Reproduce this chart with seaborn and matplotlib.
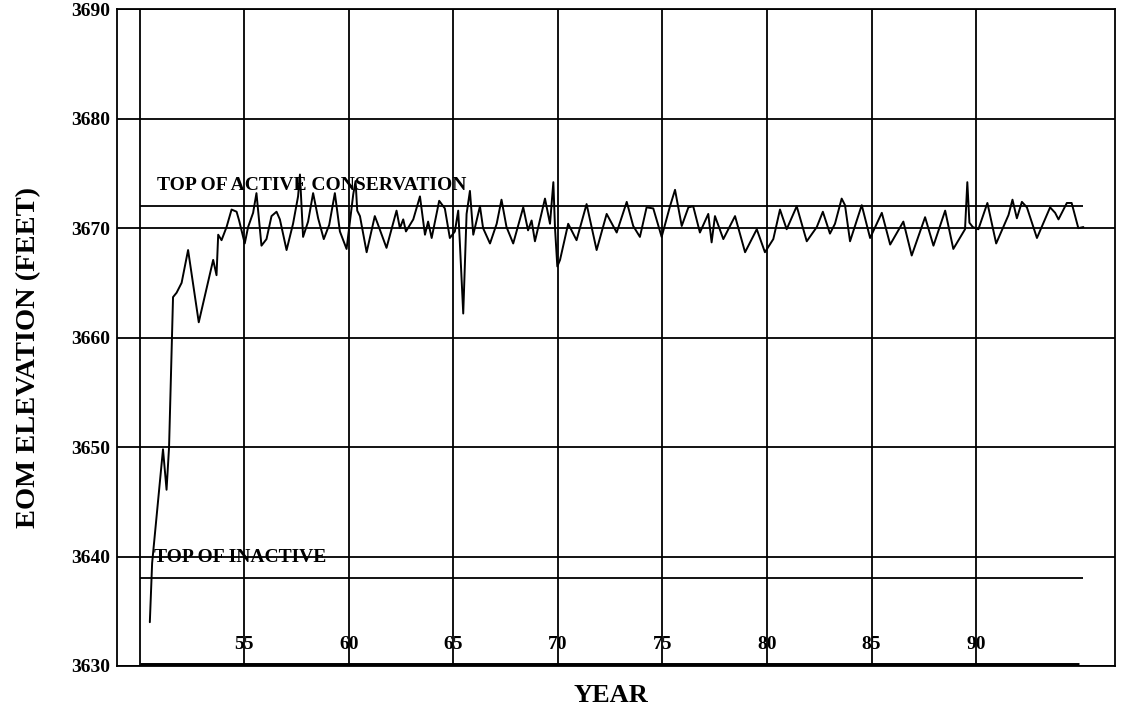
import pandas as pd
import seaborn as sns
import matplotlib.pyplot as plt

# end-of-month elevation trace
years = [50.48, 50.59, 51.11, 51.28, 51.40, 51.59, 51.76, 52.00, 52.31, 52.82,
         53.51, 53.67, 53.75, 53.91, 54.15, 54.39, 54.63, 54.75, 55.02, 55.18,
         55.42, 55.58, 55.82, 56.06, 56.30, 56.54, 56.70, 57.02, 57.33, 57.57,
         57.66, 57.81, 58.05, 58.29, 58.53, 58.80, 59.06, 59.33, 59.57, 59.89,
         60.21, 60.32, 60.40, 60.53, 60.85, 61.24, 61.36, 61.80, 62.28, 62.44,
         62.60, 62.73, 63.08, 63.40, 63.64, 63.79, 63.96, 64.32, 64.59, 64.83,
         65.07, 65.23, 65.31, 65.47, 65.63, 65.79, 65.95, 66.27, 66.42, 66.75,
         67.07, 67.30, 67.54, 67.86, 68.34, 68.57, 68.74, 68.90, 69.38, 69.62,
         69.78, 69.86, 69.97, 70.10, 70.49, 70.89, 71.37, 71.85, 72.33, 72.81,
         73.29, 73.60, 73.92, 74.24, 74.56, 74.96, 75.36, 75.60, 75.92, 76.24,
         76.47, 76.79, 77.19, 77.35, 77.51, 77.91, 78.47, 78.95, 79.51, 79.90,
         80.30, 80.62, 80.94, 81.42, 81.90, 82.38, 82.67, 83.01, 83.25, 83.57,
         83.73, 83.97, 84.53, 84.93, 85.49, 85.89, 86.52, 86.92, 87.56, 87.96,
         88.52, 88.91, 89.47, 89.58, 89.68, 89.84, 90.11, 90.54, 90.96, 91.55,
         91.74, 91.95, 92.19, 92.43, 92.91, 93.54, 93.78, 93.94, 94.34, 94.57,
         94.89, 95.13]
elevation = [3634.0, 3639.4, 3649.8, 3646.1, 3650.0, 3663.7, 3664.1, 3665.0, 3668.0, 3661.4,
             3667.1, 3665.7, 3669.4, 3668.9, 3670.1, 3671.7, 3671.5, 3670.7, 3668.6, 3670.1,
             3671.4, 3673.2, 3668.4, 3669.0, 3671.1, 3671.5, 3670.8, 3668.0, 3670.4, 3672.9,
             3674.9, 3669.2, 3670.6, 3673.2, 3670.9, 3669.0, 3670.3, 3673.2, 3669.7, 3668.1,
             3673.1, 3674.3, 3671.6, 3671.1, 3667.8, 3671.1, 3670.5, 3668.2, 3671.6, 3670.0,
             3670.8, 3669.7, 3670.8, 3672.9, 3669.4, 3670.6, 3669.1, 3672.5, 3671.8, 3669.1,
             3669.7, 3671.6, 3668.6, 3662.2, 3671.3, 3673.4, 3669.4, 3672.0, 3670.0, 3668.6,
             3670.4, 3672.6, 3670.1, 3668.6, 3671.9, 3669.8, 3670.7, 3668.8, 3672.7, 3670.4,
             3674.2, 3670.0, 3666.5, 3667.1, 3670.4, 3668.9, 3672.2, 3668.0, 3671.3, 3669.6,
             3672.4, 3670.2, 3669.2, 3671.9, 3671.8, 3669.2, 3672.0, 3673.5, 3670.2, 3671.9,
             3672.0, 3669.6, 3671.3, 3668.7, 3671.1, 3669.0, 3671.1, 3667.8, 3669.9, 3667.8,
             3669.0, 3671.7, 3669.9, 3672.0, 3668.8, 3670.1, 3671.5, 3669.5, 3670.4, 3672.7,
             3672.1, 3668.8, 3672.1, 3669.1, 3671.4, 3668.5, 3670.6, 3667.5, 3671.0, 3668.4,
             3671.6, 3668.1, 3669.9, 3674.2, 3670.5, 3670.1, 3669.9, 3672.3, 3668.6, 3671.2,
             3672.6, 3670.9, 3672.4, 3671.9, 3669.1, 3671.9, 3671.4, 3670.8, 3672.3, 3672.3,
             3670.0, 3670.1]

# reference levels
active_top = 3672
inactive_top = 3638
level_start, level_end = 50, 95.1

year_ticks = [55, 60, 65, 70, 75, 80, 85, 90]
year_grid = [50, 55, 60, 65, 70, 75, 80, 85, 90]
elev_ticks = [3630, 3640, 3650, 3660, 3670, 3680, 3690]

df = pd.DataFrame({'year': years, 'elev': elevation})

sns.set_style('white')
plt.rcParams['font.family'] = ['Liberation Serif', 'DejaVu Serif']
plt.rcParams['text.color'] = 'black'
plt.rcParams['ytick.color'] = 'black'

fig = plt.figure(figsize=(11.23, 7.10), dpi=100)
ax = fig.add_axes([0.104, 0.062, 0.889, 0.925])

# grid
for v in elev_ticks:
    ax.axhline(v, color='black', lw=1.3, zorder=1)
for yr in year_grid:
    ax.axvline(yr, color='black', lw=1.3, zorder=1)

# level lines
ax.hlines([active_top, inactive_top], level_start, level_end, color='black', lw=1.3, zorder=1)
ax.hlines(3630, level_start, level_end - 0.2, color='black', lw=5, zorder=3)

sns.lineplot(data=df, x='year', y='elev', color='black', lw=1.4, ax=ax, zorder=2)

ax.text(50.8, active_top + 1.1, 'TOP OF ACTIVE CONSERVATION', fontsize=14,
        fontweight='bold', va='bottom', ha='left')
ax.text(50.7, inactive_top + 1.1, 'TOP OF INACTIVE', fontsize=14,
        fontweight='bold', va='bottom', ha='left')

for yr in year_ticks:
    ax.text(yr, 3632.0, str(yr), fontsize=14, fontweight='bold',
            ha='center', va='center')

ax.set_xlim(48.9, 96.65)
ax.set_ylim(3630, 3690)
ax.set_xticks([])
ax.set_yticks(elev_ticks)
ax.set_yticklabels([str(v) for v in elev_ticks], fontsize=14, fontweight='bold')
ax.tick_params(axis='y', length=0, pad=5)
ax.set_xlabel('')
ax.set_ylabel('')
for s in ax.spines.values():
    s.set_color('black')
    s.set_linewidth(1.3)

fig.text(611 / 1123, 1 - 696 / 710, 'YEAR', fontsize=19, fontweight='bold',
         ha='center', va='center')
fig.text(29 / 1123, 1 - 358 / 710, 'EOM ELEVATION (FEET)', fontsize=20.5,
         fontweight='bold', rotation=90, ha='center', va='center')

fig.savefig('out.png', dpi=100)
